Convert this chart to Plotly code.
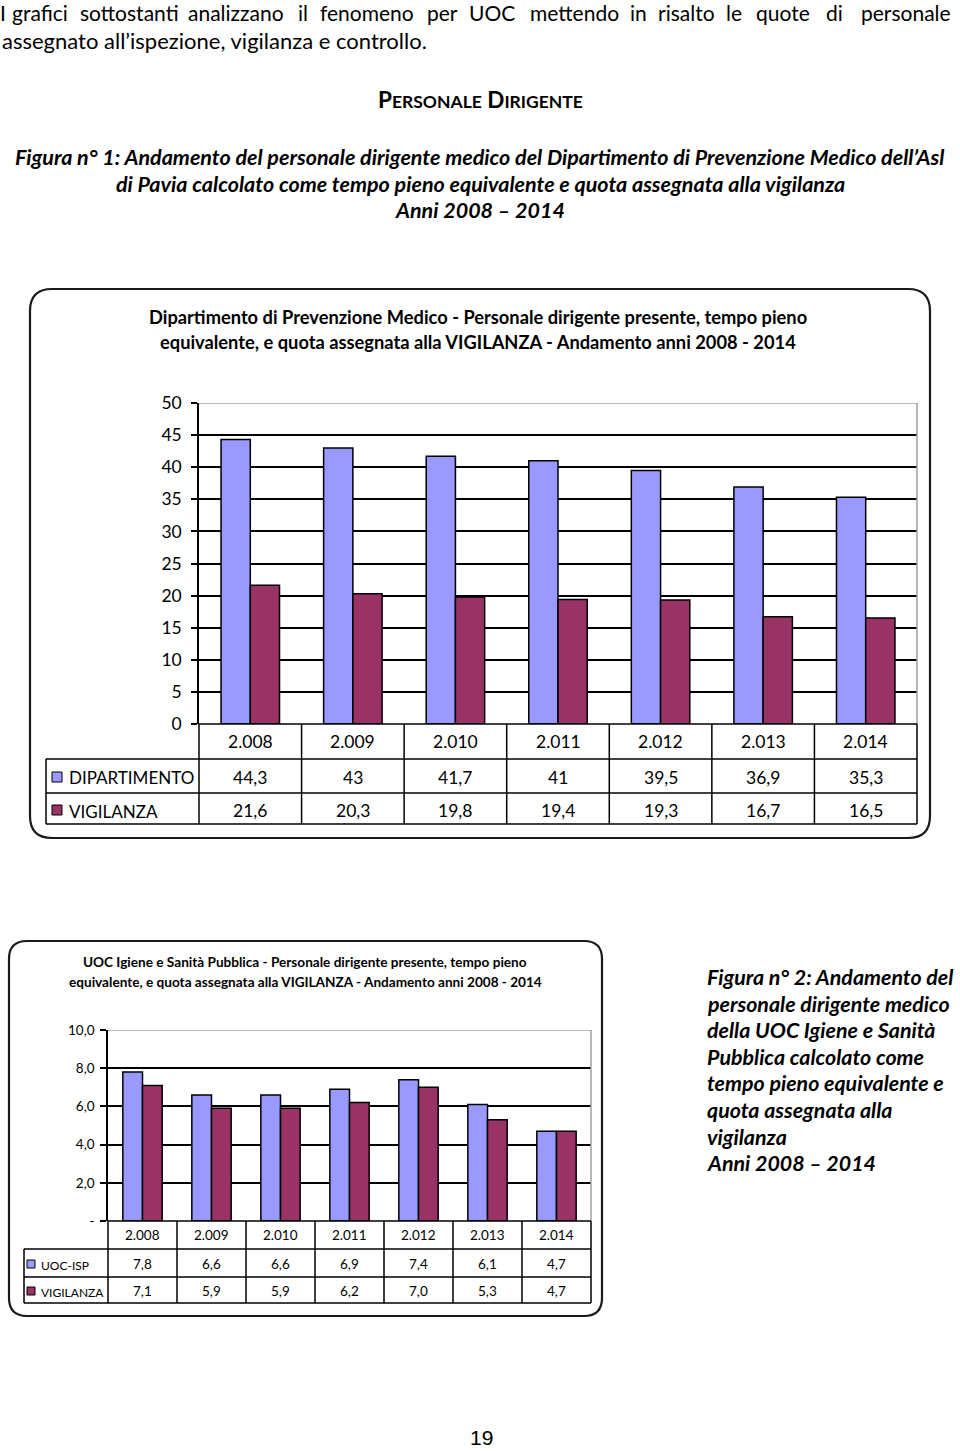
import plotly.graph_objects as go

# ---------------- data ----------------
years = ["2.008", "2.009", "2.010", "2.011", "2.012", "2.013", "2.014"]
dipartimento = [44.3, 43, 41.7, 41, 39.5, 36.9, 35.3]
vigilanza_dip = [21.6, 20.3, 19.8, 19.4, 19.3, 16.7, 16.5]
uoc_isp = [7.8, 6.6, 6.6, 6.9, 7.4, 6.1, 4.7]
vigilanza_uoc = [7.1, 5.9, 5.9, 6.2, 7.0, 5.3, 4.7]
ticks1 = [0, 5, 10, 15, 20, 25, 30, 35, 40, 45, 50]
ticks2 = [0, 2, 4, 6, 8, 10]
ticks2_text = ["-", "2,0", "4,0", "6,0", "8,0", "10,0"]

BLUE = "#9999FF"
MAROON = "#993366"
FONT = "Lato"
W, H = 960, 1451


def px(x):
    return x / W


def py(y):
    return 1 - y / H


def fmt1(v):
    return ("%g" % v).replace(".", ",")


def fmt2(v):
    return ("%.1f" % v).replace(".", ",")


fig = go.Figure()

bar_line = dict(color="black", width=1.5)
fig.add_trace(go.Bar(x=years, y=dipartimento, name="DIPARTIMENTO", marker=dict(color=BLUE, line=bar_line),
                     xaxis="x", yaxis="y", showlegend=False))
fig.add_trace(go.Bar(x=years, y=vigilanza_dip, name="VIGILANZA", marker=dict(color=MAROON, line=bar_line),
                     xaxis="x", yaxis="y", showlegend=False))
fig.add_trace(go.Bar(x=years, y=uoc_isp, name="UOC-ISP", marker=dict(color=BLUE, line=bar_line),
                     xaxis="x2", yaxis="y2", showlegend=False))
fig.add_trace(go.Bar(x=years, y=vigilanza_uoc, name="VIGILANZA", marker=dict(color=MAROON, line=bar_line),
                     xaxis="x2", yaxis="y2", showlegend=False))

# plot areas (pixel geometry)
P1 = dict(x0=199, x1=917, y0=403, y1=724)
P2 = dict(x0=108, x1=591, y0=1030, y1=1221)

shapes = []
ann = []


def line(x0, y0, x1, y1, color="black", width=1.5):
    shapes.append(dict(type="line", xref="paper", yref="paper", x0=px(x0), y0=py(y0), x1=px(x1), y1=py(y1),
                       line=dict(color=color, width=width)))


def text(x, y, t, size, xanchor="center", bold=False, italic=False, color="black", family=FONT, align="center",
         yanchor="middle"):
    if bold:
        t = "<b>" + t + "</b>"
    if italic:
        t = "<i>" + t + "</i>"
    ann.append(dict(xref="paper", yref="paper", x=px(x), y=py(y), text=t, showarrow=False,
                    xanchor=xanchor, yanchor=yanchor, align=align,
                    font=dict(family=family, size=size, color=color)))


def rounded(x0, y0, x1, y1, r):
    path = (f"M {px(x0 + r)},{py(y0)} L {px(x1 - r)},{py(y0)} Q {px(x1)},{py(y0)} {px(x1)},{py(y0 + r)} "
            f"L {px(x1)},{py(y1 - r)} Q {px(x1)},{py(y1)} {px(x1 - r)},{py(y1)} "
            f"L {px(x0 + r)},{py(y1)} Q {px(x0)},{py(y1)} {px(x0)},{py(y1 - r)} "
            f"L {px(x0)},{py(y0 + r)} Q {px(x0)},{py(y0)} {px(x0 + r)},{py(y0)} Z")
    shapes.append(dict(type="path", xref="paper", yref="paper", path=path,
                       line=dict(color="#1a1a1a", width=2.2), layer="below"))


# ---------- page text ----------
# first paragraph line is justified: place words individually (centres)
words = ["I", "grafici", "sottostanti", "analizzano", "il", "fenomeno", "per", "UOC", "mettendo", "in",
         "risalto", "le", "quote", "di", "personale"]
word_cx = [3, 40, 129, 236, 303, 367, 442, 492, 574, 638, 686, 734, 783, 834, 906]
for w_, xw in zip(words, word_cx):
    text(xw, 12, w_, 21, xanchor="center")
text(0, 40, "assegnato all’ispezione, vigilanza e controllo.", 22, xanchor="left")

text(480, 100, "P<span style='font-size:17.5px'>ERSONALE</span> D<span style='font-size:17.5px'>IRIGENTE</span>",
     22.5, bold=True)
cap1 = ["Figura n° 1: Andamento del personale dirigente medico del Dipartimento di Prevenzione Medico dell’Asl",
        "di Pavia calcolato come tempo pieno equivalente e quota assegnata alla vigilanza",
        "Anni 2008 – 2014"]
for t, yy in zip(cap1, [157, 184, 210]):
    text(480, yy, t, 21.5, bold=True, italic=True)

cap2 = ["Figura n° 2: Andamento del", "personale dirigente medico", "della UOC Igiene e Sanità",
        "Pubblica calcolato come", "tempo pieno equivalente e", "quota assegnata alla", "vigilanza",
        "Anni 2008 – 2014"]
for i, t in enumerate(cap2):
    text(705, 977 + i * 26.6, t, 21.4, xanchor="left", bold=True, italic=True)

text(481, 1451, "19", 21, family="Liberation Sans", yanchor="bottom")

# ---------- chart 1 frame & title ----------
rounded(30, 289, 930, 838, 22)
text(478, 317, "Dipartimento di Prevenzione Medico - Personale dirigente presente, tempo pieno", 18.3, bold=True)
text(478, 342, "equivalente, e quota assegnata alla VIGILANZA - Andamento anni 2008 - 2014", 18.3, bold=True)

# plot area right border & top gridline (gray)
line(P1["x1"], P1["y0"], P1["x1"], P1["y1"], color="#a0a0a0", width=1.5)
shapes.append(dict(type="line", xref="paper", yref="y", x0=px(P1["x0"]), x1=px(P1["x1"]), y0=50, y1=50,
                   line=dict(color="#a0a0a0", width=1.5)))

# table 1
cw1 = (P1["x1"] - P1["x0"]) / 7
rows1 = [724, 759, 793, 824]
LX1 = 46
for k in range(8):
    line(P1["x0"] + k * cw1, rows1[0], P1["x0"] + k * cw1, rows1[3])
line(LX1, rows1[1], LX1, rows1[3])
line(P1["x0"], rows1[0], P1["x1"], rows1[0])
for r in rows1[1:]:
    line(LX1, r, P1["x1"], r)

for i, yv in enumerate(years):
    for yy, t in [(741, yv), (777, fmt1(dipartimento[i])), (810, fmt1(vigilanza_dip[i]))]:
        ann.append(dict(xref="x", yref="paper", x=i, y=py(yy), text=t, showarrow=False, yanchor="middle",
                        font=dict(family=FONT, size=17.5, color="black")))

for yc, col, lab in [(777, BLUE, "DIPARTIMENTO"), (810, MAROON, "VIGILANZA")]:
    shapes.append(dict(type="rect", xref="paper", yref="paper", x0=px(52), x1=px(62), y0=py(yc - 5), y1=py(yc + 5),
                       fillcolor=col, line=dict(color="black", width=1)))
    text(67, yc + 1, lab, 17, xanchor="left")

# ---------- chart 2 frame & title ----------
rounded(9, 941, 602, 1316, 18)
text(305, 962, "UOC Igiene e Sanità Pubblica - Personale dirigente presente, tempo pieno", 13.6, bold=True)
text(305, 982, "equivalente, e quota assegnata alla VIGILANZA - Andamento anni 2008 - 2014", 13.6, bold=True)

line(P2["x1"], P2["y0"], P2["x1"], P2["y1"], color="#a0a0a0", width=1.5)
shapes.append(dict(type="line", xref="paper", yref="y2", x0=px(P2["x0"]), x1=px(P2["x1"]), y0=10, y1=10,
                   line=dict(color="#a0a0a0", width=1.5)))

cw2 = (P2["x1"] - P2["x0"]) / 7
rows2 = [1221, 1249, 1277, 1303]
LX2 = 24
for k in range(8):
    line(P2["x0"] + k * cw2, rows2[0], P2["x0"] + k * cw2, rows2[3])
line(LX2, rows2[1], LX2, rows2[3])
line(P2["x0"], rows2[0], P2["x1"], rows2[0])
for r in rows2[1:]:
    line(LX2, r, P2["x1"], r)

for i, yv in enumerate(years):
    for yy, t in [(1235, yv), (1264, fmt2(uoc_isp[i])), (1291, fmt2(vigilanza_uoc[i]))]:
        ann.append(dict(xref="x2", yref="paper", x=i, y=py(yy), text=t, showarrow=False, yanchor="middle",
                        font=dict(family=FONT, size=13.5, color="black")))

for yc, col, lab in [(1264, BLUE, "UOC-ISP"), (1291, MAROON, "VIGILANZA")]:
    shapes.append(dict(type="rect", xref="paper", yref="paper", x0=px(27), x1=px(35), y0=py(yc - 4), y1=py(yc + 4),
                       fillcolor=col, line=dict(color="black", width=1)))
    text(39, yc + 1, lab, 12, xanchor="left")

fig.update_layout(
    width=W, height=H, margin=dict(l=0, r=0, t=0, b=0, pad=0, autoexpand=False),
    paper_bgcolor="white", plot_bgcolor="white",
    barmode="group", bargap=0.43, bargroupgap=0,
    showlegend=False,
    xaxis=dict(domain=[px(P1["x0"]), px(P1["x1"])], anchor="y", showticklabels=False, ticks="",
               showgrid=False, showline=False, zeroline=False, automargin=False),
    yaxis=dict(domain=[py(P1["y1"]), py(P1["y0"])], anchor="x", range=[0, 50], tickvals=ticks1,
               ticks="outside", ticklen=6, tickwidth=1.5, tickcolor="black", ticklabelstandoff=6,
               showline=True, linecolor="black", linewidth=1.5, showgrid=True, gridcolor="black", gridwidth=1.5,
               zeroline=False, automargin=False, tickfont=dict(family=FONT, size=17.5, color="black")),
    xaxis2=dict(domain=[px(P2["x0"]), px(P2["x1"])], anchor="y2", showticklabels=False, ticks="",
                showgrid=False, showline=False, zeroline=False, automargin=False),
    yaxis2=dict(domain=[py(P2["y1"]), py(P2["y0"])], anchor="x2", range=[0, 10], tickvals=ticks2,
                ticktext=ticks2_text, ticks="outside", ticklen=6, tickwidth=1.5, tickcolor="black",
                ticklabelstandoff=3,
                showline=True, linecolor="black", linewidth=1.5, showgrid=True, gridcolor="black", gridwidth=1.5,
                zeroline=False, automargin=False, tickfont=dict(family=FONT, size=13.5, color="black")),
    shapes=shapes, annotations=ann,
)

fig.write_html("out.html")
